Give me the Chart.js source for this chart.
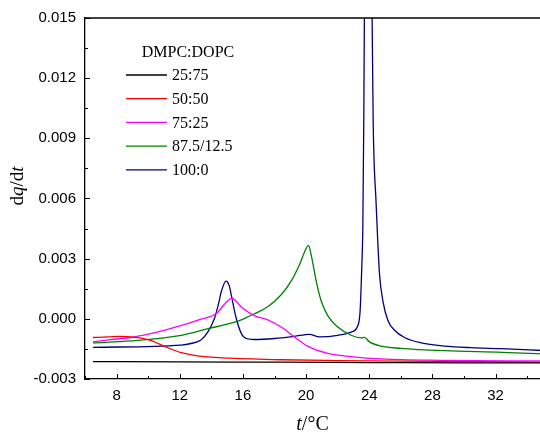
<!DOCTYPE html>
<html>
<head>
<meta charset="utf-8">
<script src="https://cdn.jsdelivr.net/npm/chart.js@4"></script>
<style>
  html, body { margin: 0; padding: 0; background: #fff; overflow: hidden; }
  #wrap { position: relative; width: 543px; height: 436px; }
</style>
</head>
<body>
<div id="wrap"><canvas id="dscChart"></canvas></div>
<script>
// DSC heating curves, DMPC:DOPC mixtures
const legendTitle = 'DMPC:DOPC';
const seriesLabels = ['25:75', '50:50', '75:25', '87.5/12.5', '100:0'];
const seriesColors = ['#000000', '#ff0000', '#ff00ff', '#008000', '#000080'];

const xTicks = [8, 12, 16, 20, 24, 28, 32];
const yTicks = [-0.003, 0.000, 0.003, 0.006, 0.009, 0.012, 0.015];

const t2575 = [6.5, 12, 18.4, 24, 30, 35];
const q2575 = [-0.00213, -0.00215, -0.00216, -0.00218, -0.0022, -0.0022];

const t5050 = [6.5, 7.5, 8.2, 9.2, 10.1, 11, 12.1, 13.1, 15.2, 18.4, 22, 26, 30, 35];
const q5050 = [-0.00093, -0.0009, -0.00087, -0.00092, -0.00106, -0.00136, -0.00169, -0.00185, -0.00196, -0.00204, -0.00208, -0.00211, -0.00213, -0.00216];

const t7525 = [6.5, 7.5, 8.9, 10, 11, 12, 13.1, 14.4, 14.8, 15.3, 15.65, 15.88, 16.72, 17.57, 18.42, 19.26, 20.1, 21.37, 22.85, 24.75, 28.5, 35];
const q7525 = [-0.00115, -0.00105, -0.00093, -0.00076, -0.00057, -0.00035, -0.00008, 0.00032, 0.0007, 0.00103, 0.00081, 0.0006, 0.00016, -0.00005, -0.00041, -0.0009, -0.00136, -0.00172, -0.00188, -0.002, -0.00207, -0.0021];

const t8750 = [6.5, 8.9, 12.1, 13.8, 15.25, 15.9, 16.72, 17.57, 18.42, 19.05, 19.58, 20.0, 20.15, 20.32, 20.64, 20.95, 21.37, 22.01, 22.85, 23.5, 23.7, 24.01, 24.75, 26, 28.77, 32.4, 35];
const q8750 = [-0.0012, -0.0011, -0.00082, -0.00049, -0.00022, -0.00005, 0.00025, 0.0006, 0.0012, 0.00188, 0.0027, 0.00351, 0.00366, 0.00319, 0.00188, 0.0009, 0.00016, -0.00041, -0.00082, -0.00095, -0.00092, -0.00115, -0.00136, -0.00147, -0.00159, -0.00167, -0.00175];

const t1000 = [6.5, 12.08, 12.71, 13.34, 13.77, 14.19, 14.5, 14.61, 14.93, 15.14, 15.25, 15.56, 15.88, 16.09, 16.72, 17.99, 19.26, 20.21, 20.84, 22.01, 22.85, 23.28, 23.42, 23.53, 23.59, 23.65, 23.69, 23.92, 24.18, 24.25, 24.43, 24.54, 24.65, 24.86, 25.18, 25.6, 26.23, 27.29, 28.77, 30.46, 32.36, 35];
const q1000 = [-0.00142, -0.00131, -0.00123, -0.00106, -0.00066, 0.0, 0.0009, 0.0013, 0.00188, 0.00163, 0.00123, 0.00008, -0.0007, -0.00093, -0.00103, -0.00098, -0.00087, -0.00077, -0.0009, -0.00082, -0.00066, -0.00033, 0.0004, 0.0027, 0.0045, 0.0097, 0.015, 0.03, 0.015, 0.0097, 0.0058, 0.0038, 0.0022, 0.0009, -0.00008, -0.00057, -0.00093, -0.0012, -0.00136, -0.00144, -0.00149, -0.00158];

const temps = [t2575, t5050, t7525, t8750, t1000];
const values = [q2575, q5050, q7525, q8750, q1000];

const tickFont = { family: 'Liberation Sans', size: 15 };
const serif = 'Liberation Serif';

// text made of upright and italic runs
function drawRuns(ctx, runs, size, x, y) {
  let total = 0;
  runs.forEach(r => {
    ctx.font = (r.italic ? 'italic ' : '') + size + 'px "' + serif + '"';
    r.w = ctx.measureText(r.text).width;
    total += r.w;
  });
  let cx = x - total / 2;
  ctx.textAlign = 'left';
  ctx.textBaseline = 'middle';
  runs.forEach(r => {
    ctx.font = (r.italic ? 'italic ' : '') + size + 'px "' + serif + '"';
    ctx.fillText(r.text, cx, y);
    cx += r.w;
  });
}

const framePlugin = {
  id: 'frame',
  afterDraw(chart) {
    const ctx = chart.ctx;
    const area = chart.chartArea;
    const xs = chart.scales.x, ys = chart.scales.y;
    ctx.save();
    ctx.strokeStyle = '#000';
    ctx.lineWidth = 1.3;

    // top edge of the frame
    ctx.beginPath();
    ctx.moveTo(area.left, area.top);
    ctx.lineTo(area.right, area.top);
    ctx.stroke();

    // inward ticks, major and minor
    ctx.lineWidth = 1;
    ctx.beginPath();
    for (let v = 6; v <= 35; v += 2) {
      const px = Math.round(xs.getPixelForValue(v)) + 0.5;
      const len = v % 4 === 0 ? 5 : 3;
      ctx.moveTo(px, area.bottom);
      ctx.lineTo(px, area.bottom - len);
    }
    for (let i = 0; i <= 12; i++) {
      const v = -0.003 + i * 0.0015;
      const py = Math.round(ys.getPixelForValue(v)) + 0.5;
      const len = i % 2 === 0 ? 5 : 3;
      ctx.moveTo(area.left, py);
      ctx.lineTo(area.left + len, py);
    }
    ctx.stroke();

    // axis titles
    ctx.fillStyle = '#000';
    drawRuns(ctx, [{ text: 't', italic: true }, { text: '/°C' }], 20, 312.5, 424.5);
    ctx.save();
    ctx.translate(18, 186);
    ctx.rotate(-Math.PI / 2);
    drawRuns(ctx, [{ text: 'd' }, { text: 'q', italic: true }, { text: '/d' }, { text: 't', italic: true }], 19, 0, 0);
    ctx.restore();

    // legend
    ctx.font = '16px "' + serif + '"';
    ctx.textAlign = 'center';
    ctx.textBaseline = 'middle';
    ctx.fillText(legendTitle, 188, 53);
    ctx.textAlign = 'left';
    chart.data.datasets.forEach((ds, i) => {
      const y = 75 + i * 23.7;
      ctx.strokeStyle = ds.borderColor;
      ctx.lineWidth = 1.3;
      ctx.beginPath();
      ctx.moveTo(126, y);
      ctx.lineTo(167, y);
      ctx.stroke();
      ctx.fillStyle = '#000';
      ctx.fillText(ds.label, 172, y + 1);
    });
    ctx.restore();
  }
};

const datasets = seriesLabels.map((label, i) => ({
  label: label,
  data: temps[i].map((t, j) => ({ x: t, y: values[i][j] })),
  borderColor: seriesColors[i],
  backgroundColor: seriesColors[i],
  borderWidth: 1.3,
  pointRadius: 0,
  fill: false,
  cubicInterpolationMode: 'monotone'
}));

new Chart(document.getElementById('dscChart').getContext('2d'), {
  type: 'line',
  data: { datasets: datasets },
  plugins: [framePlugin],
  options: {
    responsive: true,
    maintainAspectRatio: false,
    animation: false,
    layout: { padding: { top: 12, left: 0, right: 0, bottom: 0 } },
    plugins: {
      legend: { display: false },
      tooltip: { enabled: false }
    },
    scales: {
      x: {
        type: 'linear',
        min: 6,
        max: 35,
        afterBuildTicks: scale => { scale.ticks = xTicks.map(v => ({ value: v })); },
        afterFit: scale => { scale.height = 57; },
        grid: { display: true, drawOnChartArea: false, drawTicks: false },
        border: { display: true, color: '#000', width: 1.3 },
        ticks: { color: '#000', font: tickFont, padding: 8, maxRotation: 0 }
      },
      y: {
        min: -0.003,
        max: 0.015,
        afterBuildTicks: scale => { scale.ticks = yTicks.map(v => ({ value: v })); },
        afterFit: scale => { scale.width = 85; },
        grid: { display: true, drawOnChartArea: false, drawTicks: false },
        border: { display: true, color: '#000', width: 1.3 },
        ticks: { color: '#000', font: tickFont, padding: 9, callback: v => v.toFixed(3) }
      }
    }
  }
});
</script>
</body>
</html>
